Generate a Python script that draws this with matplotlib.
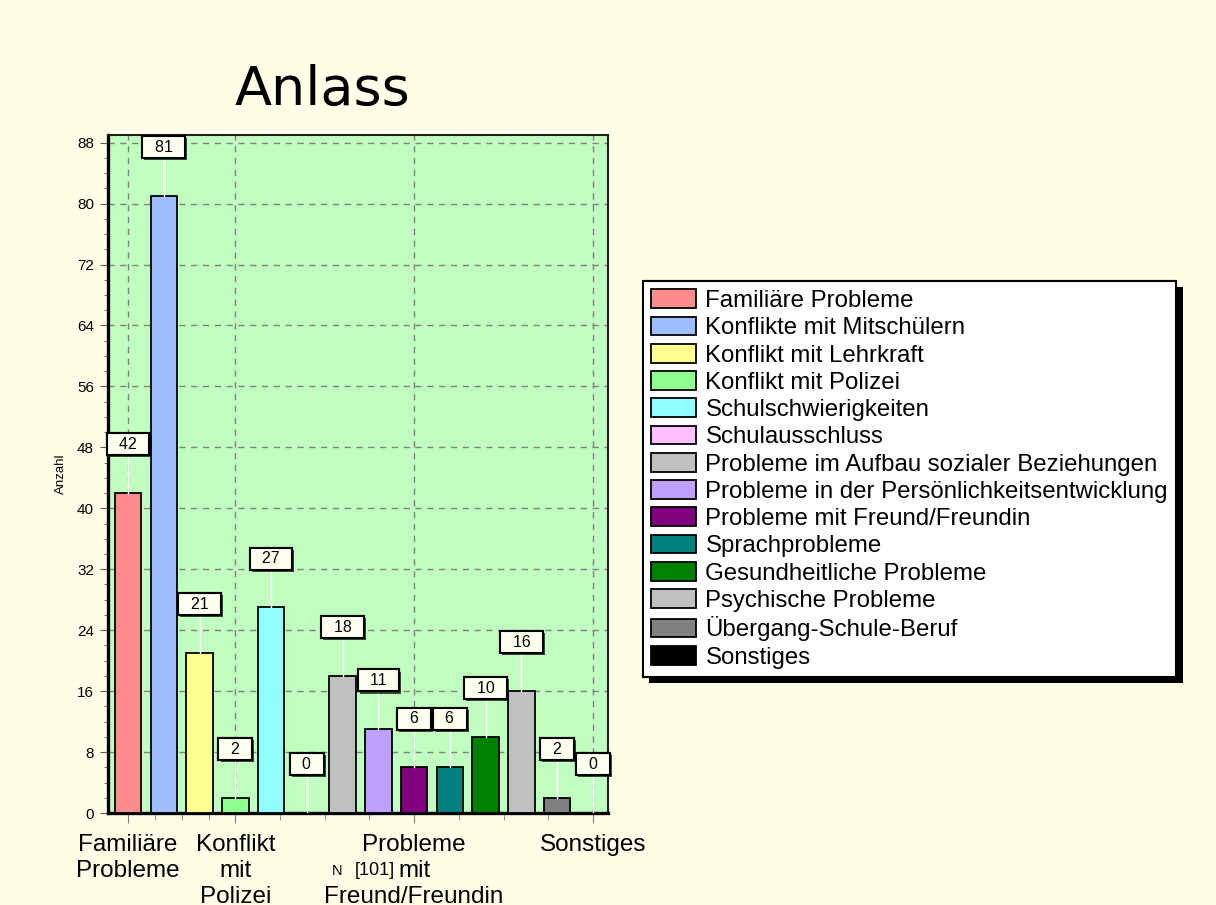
import numpy as np
import matplotlib.pyplot as plt
import matplotlib.patheffects as pe
from matplotlib.ticker import FixedLocator, MultipleLocator

categories = [
    "Familiäre Probleme",
    "Konflikte mit Mitschülern",
    "Konflikt mit Lehrkraft",
    "Konflikt mit Polizei",
    "Schulschwierigkeiten",
    "Schulausschluss",
    "Probleme im Aufbau sozialer Beziehungen",
    "Probleme in der Persönlichkeitsentwicklung",
    "Probleme mit Freund/Freundin",
    "Sprachprobleme",
    "Gesundheitliche Probleme",
    "Psychische Probleme",
    "Übergang-Schule-Beruf",
    "Sonstiges",
]
values = [42, 81, 21, 2, 27, 0, 18, 11, 6, 6, 10, 16, 2, 0]
colors = ["#FF8C8C", "#A0BEFF", "#FFFF90", "#90FF90", "#90FFFF", "#FFC0FF",
          "#C0C0C0", "#C0A0FF", "#800080", "#008080", "#008000", "#C0C0C0",
          "#808080", "#000000"]
tick_idx = [0, 3, 8, 13]
tick_labels = ["Familiäre\nProbleme", "Konflikt\nmit\nPolizei",
               "Probleme\nmit\nFreund/Freundin", "Sonstiges"]
y_ticks = list(range(0, 89, 8))

plt.rcParams['font.family'] = ['Liberation Sans', 'DejaVu Sans']

W, H = 1216, 905
fig = plt.figure(figsize=(W / 100, H / 100), dpi=100, facecolor='#FFFFE8')
ax = fig.add_axes([108 / W, 1 - 813 / H, 500 / W, (813 - 135) / H])
ax.set_facecolor('#C0FFC0')

x = np.arange(len(values))
bars = ax.bar(x, values, width=0.74, color=colors, edgecolor='black',
              linewidth=1.3, zorder=3)
ax.set_xlim(-0.56, 13.42)
ax.set_ylim(0, 89)

# grid + ticks
ax.yaxis.set_major_locator(FixedLocator(y_ticks))
ax.yaxis.set_minor_locator(MultipleLocator(2))
ax.set_xticks(tick_idx)
ax.set_xticklabels(tick_labels, fontsize=17.5, linespacing=1.24)
minor_x = []
for a, b in zip(tick_idx[:-1], tick_idx[1:]):
    minor_x += list(np.linspace(a, b, 5)[1:-1])
ax.xaxis.set_minor_locator(FixedLocator(minor_x))
ax.grid(True, which='major', color='#808080', linestyle=(0, (4.5, 4)), lw=1, zorder=1)
ax.tick_params(axis='y', which='major', labelsize=11, length=6, color='#606060', pad=4)
ax.tick_params(axis='y', which='minor', length=3, color='#606060')
ax.tick_params(axis='x', which='major', length=7, color='#808080', pad=8)
ax.tick_params(axis='x', which='minor', length=5, color='#808080')

for s in ['left', 'bottom']:
    ax.spines[s].set_linewidth(2.4)
    ax.spines[s].set_color('black')
for s in ['top', 'right']:
    ax.spines[s].set_linewidth(1.5)
    ax.spines[s].set_color('#202020')

ax.set_ylabel('Anzahl', fontsize=9.5, labelpad=7)

# value boxes
off = 6.4
for xi, v in zip(x, values):
    ax.plot([xi, xi], [v, v + off], color='white', lw=1, zorder=4)
    t = ax.text(xi, v + off, f"  {v}  ", ha='center', va='center', fontsize=11.5,
                zorder=6,
                bbox=dict(boxstyle='square,pad=0.22', fc='#FFFFF0', ec='black', lw=1.5))
    t.get_bbox_patch().set_path_effects([
        pe.withSimplePatchShadow(offset=(1.5, -1.5), shadow_rgbFace='black', alpha=0.7),
        pe.Normal()])

# title and note
fig.text(322 / W, 1 - 105 / H, 'Anlass', fontsize=39, family='DejaVu Sans',
         ha='center', va='baseline')
fig.text(342 / W, 1 - 875 / H, 'N', fontsize=10.5, ha='right', va='baseline')
fig.text(395 / W, 1 - 875 / H, '[101]', fontsize=13, ha='right', va='baseline')

# legend
leg = fig.legend(bars, categories, loc='upper left',
                 bbox_to_anchor=(643 / W, 1 - 281 / H), borderaxespad=0,
                 fontsize=17.3, handlelength=1.85, handleheight=0.82,
                 handletextpad=0.4, labelspacing=0.19, borderpad=0.35,
                 fancybox=False, framealpha=1, facecolor='white', edgecolor='black')
leg.get_frame().set_linewidth(1.5)
leg.get_frame().set_path_effects([
    pe.withSimplePatchShadow(offset=(4.5, -4.5), shadow_rgbFace='black', alpha=1),
    pe.Normal()])

fig.savefig('out.png', dpi=100, facecolor=fig.get_facecolor())
